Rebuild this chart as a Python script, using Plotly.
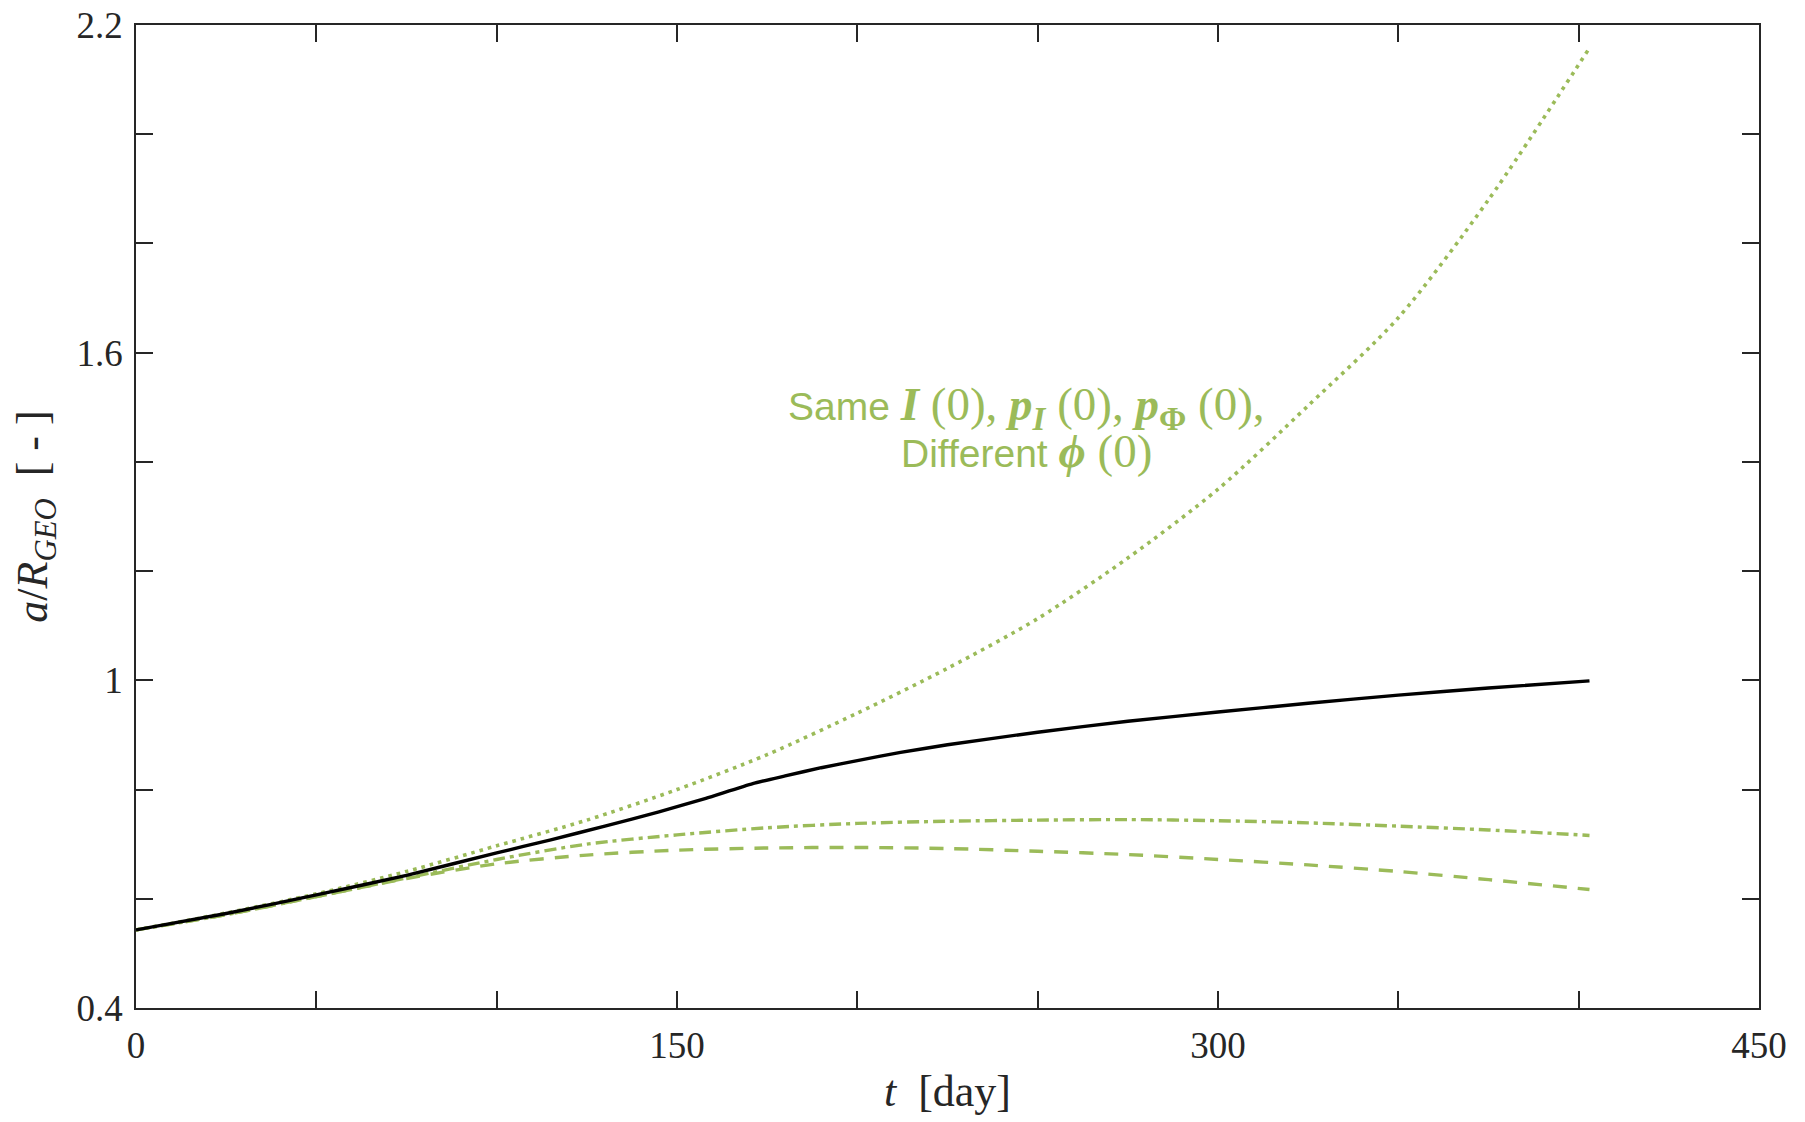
import plotly.graph_objects as go

# time [day]
t = [0, 25, 50, 75, 100, 125, 150, 175, 200, 225, 250, 275, 300, 325, 350, 375, 403]
t_black = [0, 25, 50, 75, 100, 115, 130, 145, 158, 171, 180, 190, 200, 212, 225, 250, 275, 300,
           325, 350, 375, 403]

a_black = [0.543, 0.573, 0.607, 0.643, 0.684, 0.708, 0.733, 0.759, 0.784, 0.811, 0.825, 0.840,
           0.853, 0.868, 0.882, 0.905, 0.925, 0.942, 0.958, 0.973, 0.986, 0.999]
a_dotted = [0.543, 0.574, 0.609, 0.650, 0.697, 0.744, 0.800, 0.864, 0.940, 1.022, 1.113, 1.224,
            1.350, 1.503, 1.664, 1.880, 2.158]
a_dashdot = [0.543, 0.571, 0.604, 0.638, 0.672, 0.700, 0.717, 0.730, 0.738, 0.742, 0.744, 0.745,
             0.743, 0.739, 0.733, 0.726, 0.716]
a_dashed = [0.543, 0.571, 0.604, 0.637, 0.664, 0.680, 0.689, 0.693, 0.694, 0.692, 0.687, 0.681,
            0.672, 0.662, 0.650, 0.635, 0.617]

x_ticks = [0, 50, 100, 150, 200, 250, 300, 350, 400, 450]
x_ticklabels = ["0", "", "", "150", "", "", "300", "", "", "450"]
y_ticks = [0.4, 0.6, 0.8, 1.0, 1.2, 1.4, 1.6, 1.8, 2.0, 2.2]
y_ticklabels = ["0.4", "", "", "1", "", "", "1.6", "", "", "2.2"]

GREEN = "#9BBB59"
AX = "#262626"
SERIF = "Liberation Serif"

fig = go.Figure()
fig.add_trace(go.Scatter(x=t, y=a_dotted, mode="lines",
                         line=dict(color=GREEN, width=3.6, dash="3.6px,5px", shape="spline", smoothing=0.8)))
fig.add_trace(go.Scatter(x=t, y=a_dashdot, mode="lines",
                         line=dict(color=GREEN, width=3.4, dash="12px,5px,4px,5px", shape="spline", smoothing=0.8)))
fig.add_trace(go.Scatter(x=t, y=a_dashed, mode="lines",
                         line=dict(color=GREEN, width=3.4, dash="14px,11px", shape="spline", smoothing=0.8)))
fig.add_trace(go.Scatter(x=t_black, y=a_black, mode="lines",
                         line=dict(color="black", width=3.4, shape="spline", smoothing=0.5)))

axis_common = dict(
    showline=True, linecolor=AX, linewidth=1.5, mirror="allticks",
    ticks="inside", ticklen=17, tickwidth=1.5, tickcolor=AX,
    showgrid=False, zeroline=False, ticklabeloverflow="allow",
    tickfont=dict(family=SERIF, size=37, color=AX),
)

fig.update_xaxes(range=[0, 450], tickmode="array", tickvals=x_ticks, ticktext=x_ticklabels,
                 ticklabelstandoff=4,
                 title=dict(text="<i>t</i>  [day]", font=dict(family=SERIF, size=44, color=AX), standoff=10),
                 **axis_common)
fig.update_yaxes(range=[0.4, 2.2], tickmode="array", tickvals=y_ticks, ticktext=y_ticklabels,
                 ticklabelstandoff=4,
                 title=dict(text="<i>a</i>/<i>R</i><sub><i>GEO</i></sub>  [ - ]",
                            font=dict(family=SERIF, size=44, color=AX), standoff=16),
                 **axis_common)

sp = '<span style="font-family:Liberation Serif;font-size:47px">'
line1 = ("Same " + sp + "<b><i>I</i></b> (0), <b><i>p</i></b><sub><b><i>I</i></b></sub> (0), "
         "<b><i>p</i></b><sub><b>Φ</b></sub> (0),</span>")
line2 = "Different " + sp + "<b><i>ϕ</i></b> (0)</span>"

fig.add_annotation(x=247, y=1.500, xref="x", yref="y", text=line1, showarrow=False,
                   font=dict(family="Liberation Sans", size=39, color=GREEN), xanchor="center", yanchor="middle")
fig.add_annotation(x=247, y=1.420, xref="x", yref="y", text=line2, showarrow=False,
                   font=dict(family="Liberation Sans", size=39, color=GREEN), xanchor="center", yanchor="middle")

fig.update_layout(
    width=1805, height=1122,
    margin=dict(l=128, r=54, t=17, b=122, autoexpand=False),
    plot_bgcolor="white", paper_bgcolor="white",
    showlegend=False,
)

fig.write_html("out.html")
